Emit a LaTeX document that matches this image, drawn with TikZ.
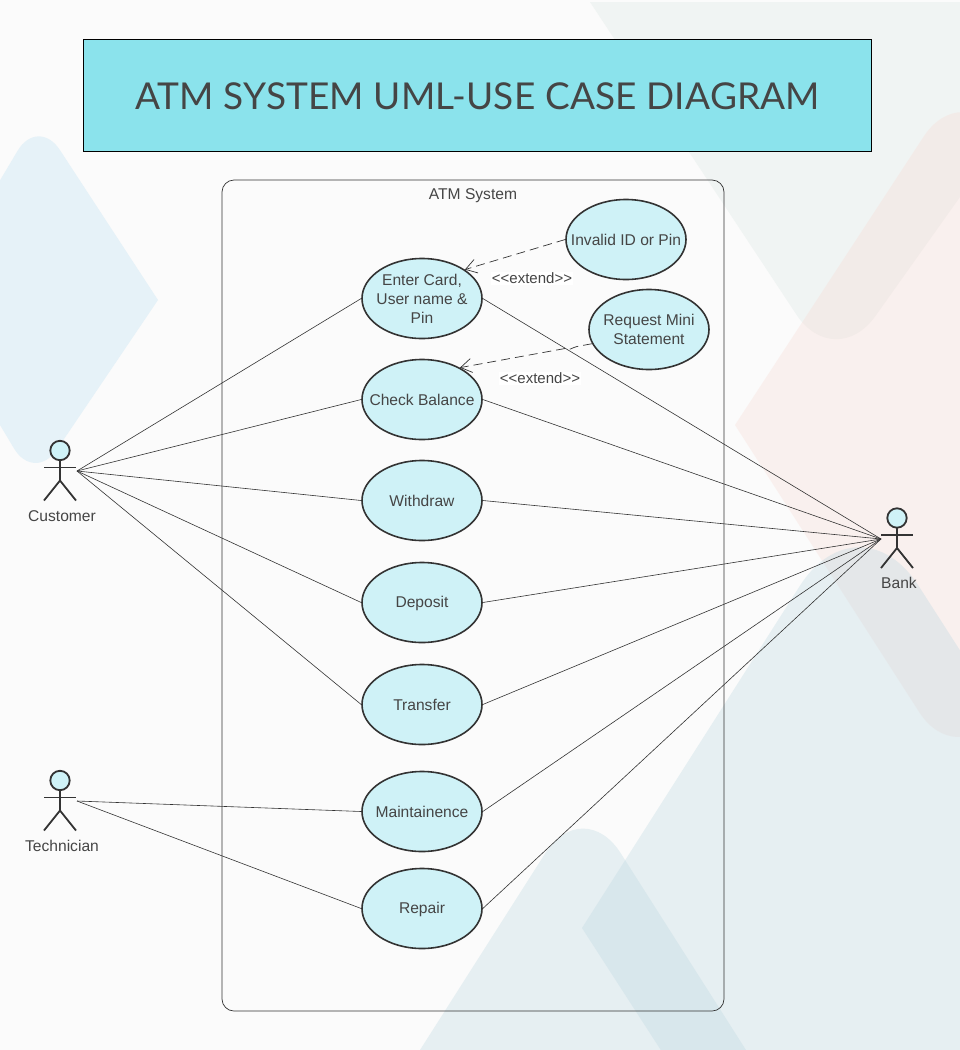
\documentclass[tikz,border=0pt]{standalone}
\usepackage{fontspec}
\setmainfont{Liberation Sans}
\newfontfamily\titlefont[LetterSpace=0.5]{Lato}
\usetikzlibrary{arrows.meta,shapes.geometric}
\definecolor{pagebg}{HTML}{FBFBFB}
\definecolor{inkgray}{HTML}{333333}
\definecolor{textgray}{HTML}{454545}
\definecolor{casefill}{HTML}{CFF2F7}
\definecolor{titlefill}{HTML}{8BE3EC}
\definecolor{bgblue}{HTML}{E6F2F8}
\definecolor{bggreen}{HTML}{F0F4F3}
\definecolor{bgpink}{HTML}{F8DCD6}
\definecolor{bgteal}{HTML}{BFD9E2}
\tikzset{
  usecase/.style={ellipse,draw=inkgray,line width=1.6pt,fill=casefill,minimum width=120pt,minimum height=80pt,inner xsep=-25pt,inner ysep=-10pt,align=center,text=textgray,font=\fontsize{15.6}{19}\selectfont},
  singleline/.style={execute at begin node={\rule[-3.2pt]{0pt}{17.4pt}}},
  assoc/.style={draw=inkgray,line width=0.6pt},
  extendline/.style={draw=inkgray,line width=0.7pt,dash pattern=on 9pt off 5pt,-{Straight Barb[length=11pt,width=14pt]}},
  extendtag/.style={fill=white,inner sep=1pt,text=textgray,font=\fontsize{15}{19}\selectfont},
  actorlabel/.style={text=textgray,font=\fontsize{15.6}{19}\selectfont},
  actorline/.style={draw=inkgray,line width=1.8pt}
}
\newcommand{\actorfig}[2]{%
  \draw[actorline,fill=casefill] (#1,#2) circle (9.7pt);
  \draw[actorline] (#1,#2+9.7) -- (#1,#2+30) -- (#1-16,#2+50);
  \draw[actorline] (#1,#2+30) -- (#1+16,#2+50);
  \draw[actorline] (#1-16,#2+17) -- (#1+16,#2+17);
}
\begin{document}
\begin{tikzpicture}[x=1pt,y=-1pt]
  \useasboundingbox (0,0) rectangle (960,1050);
  % Bakgrunn
  \fill[pagebg] (0,0) rectangle (960,1050);
  \begin{scope}
    \clip (0,0) rectangle (960,1050);
    \fill[bgblue] (158,300) [rounded corners=40pt] -- (38,116.5) -- (-73,303) -- (34.5,482.7) [sharp corners] -- cycle;
    \fill[bggreen] (590,2) -- (960,2) -- (960,197) [rounded corners=70pt] -- (835,373) [sharp corners] -- cycle;
    \fill[bgpink,opacity=.35] (735,425) [rounded corners=70pt] -- (962,78) -- (1200,425) -- (957,771) [sharp corners] -- cycle;
    \fill[bgteal,opacity=.35] (582,928) [rounded corners=110pt] -- (859,493) [sharp corners] -- (1300,1180) -- (790,1250) -- cycle;
    \fill[bgteal,opacity=.35] (420,1050) [rounded corners=70pt] -- (583,794) [sharp corners] -- (746,1050) -- cycle;
  \end{scope}
  % Tittel
  \node[draw=black,line width=0.8pt,fill=titlefill,minimum width=788pt,minimum height=112pt,inner sep=0pt,text height=27.6pt,text depth=0pt,text=textgray,font=\titlefont\fontsize{37}{44}\selectfont] (title) at (477.5,95.5) {ATM SYSTEM UML-USE CASE DIAGRAM};
  % System
  \draw[draw=inkgray,line width=0.7pt,rounded corners=12pt] (222,180) rectangle (724,1011);
  \node[text=textgray,font=\fontsize{15.6}{19}\selectfont] (systemlabel) at (473,196) {ATM System};
  % Usecaser
  \node[usecase] (invalid) at (626,239.5) {Invalid ID or Pin};
  \node[usecase] (request) at (649,329.5) {Request Mini\\Statement};
  \node[usecase] (enter) at (422,298.5) {Enter Card,\\User name \&\\Pin};
  \node[usecase,singleline] (check) at (422,399.5) {Check Balance};
  \node[usecase,singleline] (withdraw) at (422,500.5) {Withdraw};
  \node[usecase,singleline] (deposit) at (422,602.5) {Deposit};
  \node[usecase,singleline] (transfer) at (422,704.5) {Transfer};
  \node[usecase,singleline] (maintain) at (422,811.5) {Maintainence};
  \node[usecase,singleline] (repair) at (422,908.5) {Repair};
  % Aktorer
  \actorfig{60}{450.5}
  \actorfig{897}{518}
  \actorfig{60}{780.5}
  \node[actorlabel] (customerlabel) at (62,516) {Customer};
  \node[actorlabel] (banklabel) at (899,582.5) {Bank};
  \node[actorlabel] (techlabel) at (62,845.5) {Technician};
  \coordinate (customer) at (77,471);
  \coordinate (bank) at (881,539);
  \coordinate (technician) at (77,801);
  % Linjer
  \foreach \c in {enter,check,withdraw,deposit,transfer}
    \draw[assoc] (customer) -- (\c.west);
  \foreach \c in {enter,check,withdraw,deposit,transfer,maintain,repair}
    \draw[assoc] (\c.east) -- (bank);
  \foreach \c in {maintain,repair}
    \draw[assoc] (technician) -- (\c.west);
  \draw[extendline] (invalid.west) -- (enter.34);
  \coordinate (jumpa) at (577,346.5);
  \coordinate (jumpb) at (565,348.5);
  \draw[extendline] (request.194) -- (jumpa) to[out=190,in=-40] (jumpb) -- (check.40);
  \node[extendtag] (extendone) at (532,278.5) {<{}<extend>{}>};
  \node[extendtag] (extendtwo) at (540,378.5) {<{}<extend>{}>};
\end{tikzpicture}
\end{document}
